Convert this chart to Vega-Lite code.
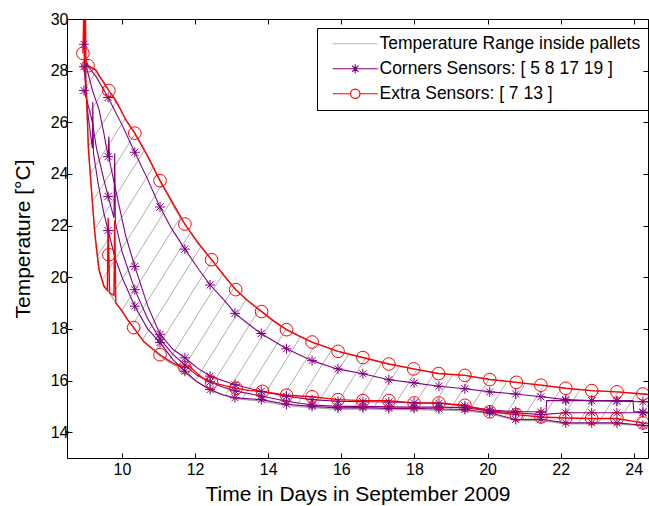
{
  "$schema": "https://vega.github.io/schema/vega-lite/v6.json",
  "width": 581,
  "height": 439,
  "autosize": {"type": "none"},
  "padding": {"left": 67, "top": 19, "right": 1, "bottom": 48},
  "background": "white",
  "config": {"view": {"stroke": null}, "font": "Liberation Sans"},
  "datasets": {
    "hatch": [
      {"d0": 1.60, "t0": 13, "d1": 9.12, "t1": 30}, {"d0": 2.13, "t0": 13, "d1": 9.65, "t1": 30},
      {"d0": 2.67, "t0": 13, "d1": 10.19, "t1": 30}, {"d0": 3.20, "t0": 13, "d1": 10.72, "t1": 30},
      {"d0": 3.74, "t0": 13, "d1": 11.26, "t1": 30}, {"d0": 4.27, "t0": 13, "d1": 11.79, "t1": 30},
      {"d0": 4.80, "t0": 13, "d1": 12.32, "t1": 30}, {"d0": 5.34, "t0": 13, "d1": 12.86, "t1": 30},
      {"d0": 5.87, "t0": 13, "d1": 13.39, "t1": 30}, {"d0": 6.41, "t0": 13, "d1": 13.93, "t1": 30},
      {"d0": 6.94, "t0": 13, "d1": 14.46, "t1": 30}, {"d0": 7.47, "t0": 13, "d1": 14.99, "t1": 30},
      {"d0": 8.01, "t0": 13, "d1": 15.53, "t1": 30}, {"d0": 8.54, "t0": 13, "d1": 16.06, "t1": 30},
      {"d0": 9.08, "t0": 13, "d1": 16.60, "t1": 30}, {"d0": 9.61, "t0": 13, "d1": 17.13, "t1": 30},
      {"d0": 10.14, "t0": 13, "d1": 17.66, "t1": 30}, {"d0": 10.68, "t0": 13, "d1": 18.20, "t1": 30},
      {"d0": 11.21, "t0": 13, "d1": 18.73, "t1": 30}, {"d0": 11.75, "t0": 13, "d1": 19.27, "t1": 30},
      {"d0": 12.28, "t0": 13, "d1": 19.80, "t1": 30}, {"d0": 12.81, "t0": 13, "d1": 20.33, "t1": 30},
      {"d0": 13.35, "t0": 13, "d1": 20.87, "t1": 30}, {"d0": 13.88, "t0": 13, "d1": 21.40, "t1": 30},
      {"d0": 14.42, "t0": 13, "d1": 21.94, "t1": 30}, {"d0": 14.95, "t0": 13, "d1": 22.47, "t1": 30},
      {"d0": 15.48, "t0": 13, "d1": 23.00, "t1": 30}, {"d0": 16.02, "t0": 13, "d1": 23.54, "t1": 30},
      {"d0": 16.55, "t0": 13, "d1": 24.07, "t1": 30}, {"d0": 17.09, "t0": 13, "d1": 24.61, "t1": 30},
      {"d0": 17.62, "t0": 13, "d1": 25.14, "t1": 30}, {"d0": 18.15, "t0": 13, "d1": 25.67, "t1": 30},
      {"d0": 18.69, "t0": 13, "d1": 26.21, "t1": 30}, {"d0": 19.22, "t0": 13, "d1": 26.74, "t1": 30},
      {"d0": 19.76, "t0": 13, "d1": 27.28, "t1": 30}, {"d0": 20.29, "t0": 13, "d1": 27.81, "t1": 30},
      {"d0": 20.82, "t0": 13, "d1": 28.34, "t1": 30}, {"d0": 21.36, "t0": 13, "d1": 28.88, "t1": 30},
      {"d0": 21.89, "t0": 13, "d1": 29.41, "t1": 30}, {"d0": 22.43, "t0": 13, "d1": 29.95, "t1": 30},
      {"d0": 22.96, "t0": 13, "d1": 30.48, "t1": 30}, {"d0": 23.49, "t0": 13, "d1": 31.01, "t1": 30},
      {"d0": 24.03, "t0": 13, "d1": 31.55, "t1": 30}
    ],
    "range": [
      {"day": 8.495, "tmin": 28.3, "tmax": 28.3}, {"day": 8.99, "tmin": 28.3, "tmax": 28.3},
      {"day": 9.01, "tmin": 28.3, "tmax": 28.35}, {"day": 9.03, "tmin": 27.0, "tmax": 28.3},
      {"day": 9.08, "tmin": 25.0, "tmax": 28.2}, {"day": 9.15, "tmin": 23.64, "tmax": 28.1},
      {"day": 9.25, "tmin": 21.8, "tmax": 28.05}, {"day": 9.28, "tmin": 21.3, "tmax": 28.03},
      {"day": 9.37, "tmin": 20.29, "tmax": 27.85}, {"day": 9.51, "tmin": 19.64, "tmax": 27.55},
      {"day": 9.64, "tmin": 19.45, "tmax": 27.23}, {"day": 9.83, "tmin": 19.0, "tmax": 26.9},
      {"day": 9.92, "tmin": 18.85, "tmax": 26.6}, {"day": 10.15, "tmin": 18.36, "tmax": 26.0},
      {"day": 10.32, "tmin": 18.05, "tmax": 25.62}, {"day": 10.6, "tmin": 17.5, "tmax": 24.95},
      {"day": 11.04, "tmin": 16.95, "tmax": 23.74}, {"day": 11.3, "tmin": 16.7, "tmax": 23.05},
      {"day": 11.49, "tmin": 16.55, "tmax": 22.55}, {"day": 11.72, "tmin": 16.3, "tmax": 22.06},
      {"day": 12.05, "tmin": 15.95, "tmax": 21.35}, {"day": 12.45, "tmin": 15.6, "tmax": 20.68},
      {"day": 12.8, "tmin": 15.43, "tmax": 20.05}, {"day": 13.11, "tmin": 15.3, "tmax": 19.52},
      {"day": 13.45, "tmin": 15.25, "tmax": 19.08}, {"day": 13.82, "tmin": 15.2, "tmax": 18.67},
      {"day": 14.5, "tmin": 15.03, "tmax": 17.97}, {"day": 15.2, "tmin": 14.95, "tmax": 17.49},
      {"day": 15.91, "tmin": 14.88, "tmax": 17.13}, {"day": 16.59, "tmin": 14.9, "tmax": 16.89},
      {"day": 17.3, "tmin": 14.87, "tmax": 16.64}, {"day": 17.98, "tmin": 14.87, "tmax": 16.45},
      {"day": 18.66, "tmin": 14.85, "tmax": 16.27}, {"day": 19.38, "tmin": 14.83, "tmax": 16.2},
      {"day": 20.06, "tmin": 14.72, "tmax": 16.04}, {"day": 20.79, "tmin": 14.45, "tmax": 15.93},
      {"day": 21.46, "tmin": 14.45, "tmax": 15.82}, {"day": 22.14, "tmin": 14.32, "tmax": 15.70},
      {"day": 22.85, "tmin": 14.32, "tmax": 15.61}, {"day": 23.54, "tmin": 14.32, "tmax": 15.56},
      {"day": 24.25, "tmin": 14.24, "tmax": 15.48}, {"day": 24.39, "tmin": 14.22, "tmax": 15.46}
    ],
    "lines": [
      {"group": "corner", "sensor": "S5", "day": 8.96, "temp": 28.15}, {"group": "corner", "sensor": "S5", "day": 9.05, "temp": 28.2},
      {"group": "corner", "sensor": "S5", "day": 9.3, "temp": 27.75}, {"group": "corner", "sensor": "S5", "day": 9.62, "temp": 26.96},
      {"group": "corner", "sensor": "S5", "day": 10.0, "temp": 25.9}, {"group": "corner", "sensor": "S5", "day": 10.35, "temp": 24.84},
      {"group": "corner", "sensor": "S5", "day": 10.7, "temp": 23.8}, {"group": "corner", "sensor": "S5", "day": 11.01, "temp": 22.8},
      {"group": "corner", "sensor": "S5", "day": 11.35, "temp": 21.9}, {"group": "corner", "sensor": "S5", "day": 11.72, "temp": 21.09},
      {"group": "corner", "sensor": "S5", "day": 12.1, "temp": 20.3}, {"group": "corner", "sensor": "S5", "day": 12.43, "temp": 19.67},
      {"group": "corner", "sensor": "S5", "day": 12.8, "temp": 19.1}, {"group": "corner", "sensor": "S5", "day": 13.1, "temp": 18.59},
      {"group": "corner", "sensor": "S5", "day": 13.45, "temp": 18.2}, {"group": "corner", "sensor": "S5", "day": 13.78, "temp": 17.84},
      {"group": "corner", "sensor": "S5", "day": 14.5, "temp": 17.23}, {"group": "corner", "sensor": "S5", "day": 15.2, "temp": 16.77},
      {"group": "corner", "sensor": "S5", "day": 15.86, "temp": 16.46}, {"group": "corner", "sensor": "S5", "day": 16.59, "temp": 16.26},
      {"group": "corner", "sensor": "S5", "day": 17.3, "temp": 16.03}, {"group": "corner", "sensor": "S5", "day": 17.99, "temp": 15.91},
      {"group": "corner", "sensor": "S5", "day": 18.67, "temp": 15.78}, {"group": "corner", "sensor": "S5", "day": 19.38, "temp": 15.68},
      {"group": "corner", "sensor": "S5", "day": 20.08, "temp": 15.56}, {"group": "corner", "sensor": "S5", "day": 20.77, "temp": 15.48},
      {"group": "corner", "sensor": "S5", "day": 21.46, "temp": 15.37}, {"group": "corner", "sensor": "S5", "day": 22.14, "temp": 15.26},
      {"group": "corner", "sensor": "S5", "day": 22.85, "temp": 15.22}, {"group": "corner", "sensor": "S5", "day": 23.54, "temp": 15.2},
      {"group": "corner", "sensor": "S5", "day": 24.25, "temp": 15.18}, {"group": "corner", "sensor": "S5", "day": 24.39, "temp": 15.17},

      {"group": "corner", "sensor": "S8", "day": 8.95, "temp": 30.5}, {"group": "corner", "sensor": "S8", "day": 8.96, "temp": 29.02},
      {"group": "corner", "sensor": "S8", "day": 9.05, "temp": 28.0}, {"group": "corner", "sensor": "S8", "day": 9.2, "temp": 27.2},
      {"group": "corner", "sensor": "S8", "day": 9.37, "temp": 26.5}, {"group": "corner", "sensor": "S8", "day": 9.5, "temp": 25.6},
      {"group": "corner", "sensor": "S8", "day": 9.62, "temp": 24.67}, {"group": "corner", "sensor": "S8", "day": 9.64, "temp": 25.45},
      {"group": "corner", "sensor": "S8", "day": 9.66, "temp": 24.5}, {"group": "corner", "sensor": "S8", "day": 9.9, "temp": 22.9},
      {"group": "corner", "sensor": "S8", "day": 10.1, "temp": 21.6}, {"group": "corner", "sensor": "S8", "day": 10.35, "temp": 20.42},
      {"group": "corner", "sensor": "S8", "day": 10.7, "temp": 18.9}, {"group": "corner", "sensor": "S8", "day": 11.04, "temp": 17.79},
      {"group": "corner", "sensor": "S8", "day": 11.4, "temp": 17.2}, {"group": "corner", "sensor": "S8", "day": 11.72, "temp": 16.88},
      {"group": "corner", "sensor": "S8", "day": 12.05, "temp": 16.5}, {"group": "corner", "sensor": "S8", "day": 12.41, "temp": 16.17},
      {"group": "corner", "sensor": "S8", "day": 12.75, "temp": 16.0}, {"group": "corner", "sensor": "S8", "day": 13.09, "temp": 15.84},
      {"group": "corner", "sensor": "S8", "day": 13.81, "temp": 15.58}, {"group": "corner", "sensor": "S8", "day": 14.5, "temp": 15.39},
      {"group": "corner", "sensor": "S8", "day": 15.2, "temp": 15.26}, {"group": "corner", "sensor": "S8", "day": 15.91, "temp": 15.2},
      {"group": "corner", "sensor": "S8", "day": 16.59, "temp": 15.18}, {"group": "corner", "sensor": "S8", "day": 17.3, "temp": 15.17},
      {"group": "corner", "sensor": "S8", "day": 17.99, "temp": 15.14}, {"group": "corner", "sensor": "S8", "day": 18.67, "temp": 15.12},
      {"group": "corner", "sensor": "S8", "day": 19.38, "temp": 15.02}, {"group": "corner", "sensor": "S8", "day": 20.06, "temp": 14.86},
      {"group": "corner", "sensor": "S8", "day": 20.77, "temp": 14.8}, {"group": "corner", "sensor": "S8", "day": 21.6, "temp": 14.78},
      {"group": "corner", "sensor": "S8", "day": 21.62, "temp": 15.22}, {"group": "corner", "sensor": "S8", "day": 23.98, "temp": 15.22},
      {"group": "corner", "sensor": "S8", "day": 24.0, "temp": 14.8}, {"group": "corner", "sensor": "S8", "day": 24.39, "temp": 14.76},

      {"group": "corner", "sensor": "S17", "day": 8.96, "temp": 27.23}, {"group": "corner", "sensor": "S17", "day": 9.05, "temp": 26.8},
      {"group": "corner", "sensor": "S17", "day": 9.19, "temp": 26.0}, {"group": "corner", "sensor": "S17", "day": 9.3, "temp": 25.0},
      {"group": "corner", "sensor": "S17", "day": 9.5, "temp": 23.8}, {"group": "corner", "sensor": "S17", "day": 9.62, "temp": 23.13},
      {"group": "corner", "sensor": "S17", "day": 9.78, "temp": 22.3}, {"group": "corner", "sensor": "S17", "day": 9.8, "temp": 24.8},
      {"group": "corner", "sensor": "S17", "day": 9.82, "temp": 22.1}, {"group": "corner", "sensor": "S17", "day": 10.0, "temp": 21.0},
      {"group": "corner", "sensor": "S17", "day": 10.35, "temp": 19.52}, {"group": "corner", "sensor": "S17", "day": 10.7, "temp": 18.4},
      {"group": "corner", "sensor": "S17", "day": 11.04, "temp": 17.6}, {"group": "corner", "sensor": "S17", "day": 11.4, "temp": 17.0},
      {"group": "corner", "sensor": "S17", "day": 11.72, "temp": 16.6}, {"group": "corner", "sensor": "S17", "day": 12.05, "temp": 16.2},
      {"group": "corner", "sensor": "S17", "day": 12.41, "temp": 15.95}, {"group": "corner", "sensor": "S17", "day": 12.75, "temp": 15.75},
      {"group": "corner", "sensor": "S17", "day": 13.09, "temp": 15.6}, {"group": "corner", "sensor": "S17", "day": 13.81, "temp": 15.4},
      {"group": "corner", "sensor": "S17", "day": 14.5, "temp": 15.2}, {"group": "corner", "sensor": "S17", "day": 15.2, "temp": 15.05},
      {"group": "corner", "sensor": "S17", "day": 15.91, "temp": 15.0}, {"group": "corner", "sensor": "S17", "day": 16.59, "temp": 15.0},
      {"group": "corner", "sensor": "S17", "day": 17.3, "temp": 14.98}, {"group": "corner", "sensor": "S17", "day": 17.99, "temp": 14.97},
      {"group": "corner", "sensor": "S17", "day": 18.67, "temp": 14.97}, {"group": "corner", "sensor": "S17", "day": 19.38, "temp": 14.95},
      {"group": "corner", "sensor": "S17", "day": 20.06, "temp": 14.82}, {"group": "corner", "sensor": "S17", "day": 20.77, "temp": 14.75},
      {"group": "corner", "sensor": "S17", "day": 21.46, "temp": 14.68}, {"group": "corner", "sensor": "S17", "day": 22.14, "temp": 14.75},
      {"group": "corner", "sensor": "S17", "day": 22.85, "temp": 14.75}, {"group": "corner", "sensor": "S17", "day": 23.54, "temp": 14.75},
      {"group": "corner", "sensor": "S17", "day": 24.25, "temp": 14.75}, {"group": "corner", "sensor": "S17", "day": 24.39, "temp": 14.74},

      {"group": "corner", "sensor": "S19", "day": 8.95, "temp": 30.5}, {"group": "corner", "sensor": "S19", "day": 8.97, "temp": 28.0},
      {"group": "corner", "sensor": "S19", "day": 9.05, "temp": 26.5}, {"group": "corner", "sensor": "S19", "day": 9.19, "temp": 25.0},
      {"group": "corner", "sensor": "S19", "day": 9.2, "temp": 26.8}, {"group": "corner", "sensor": "S19", "day": 9.22, "temp": 24.8},
      {"group": "corner", "sensor": "S19", "day": 9.35, "temp": 23.6}, {"group": "corner", "sensor": "S19", "day": 9.5, "temp": 22.5},
      {"group": "corner", "sensor": "S19", "day": 9.62, "temp": 21.81}, {"group": "corner", "sensor": "S19", "day": 9.8, "temp": 20.8},
      {"group": "corner", "sensor": "S19", "day": 10.0, "temp": 20.0}, {"group": "corner", "sensor": "S19", "day": 10.35, "temp": 18.88},
      {"group": "corner", "sensor": "S19", "day": 10.7, "temp": 18.0}, {"group": "corner", "sensor": "S19", "day": 11.04, "temp": 17.47},
      {"group": "corner", "sensor": "S19", "day": 11.4, "temp": 16.8}, {"group": "corner", "sensor": "S19", "day": 11.72, "temp": 16.36},
      {"group": "corner", "sensor": "S19", "day": 12.05, "temp": 15.95}, {"group": "corner", "sensor": "S19", "day": 12.41, "temp": 15.65},
      {"group": "corner", "sensor": "S19", "day": 12.75, "temp": 15.45}, {"group": "corner", "sensor": "S19", "day": 13.09, "temp": 15.33},
      {"group": "corner", "sensor": "S19", "day": 13.81, "temp": 15.26}, {"group": "corner", "sensor": "S19", "day": 14.5, "temp": 15.08},
      {"group": "corner", "sensor": "S19", "day": 15.2, "temp": 15.0}, {"group": "corner", "sensor": "S19", "day": 15.91, "temp": 14.94},
      {"group": "corner", "sensor": "S19", "day": 16.59, "temp": 14.95}, {"group": "corner", "sensor": "S19", "day": 17.3, "temp": 14.92},
      {"group": "corner", "sensor": "S19", "day": 17.99, "temp": 14.92}, {"group": "corner", "sensor": "S19", "day": 18.67, "temp": 14.9},
      {"group": "corner", "sensor": "S19", "day": 19.38, "temp": 14.88}, {"group": "corner", "sensor": "S19", "day": 20.06, "temp": 14.75},
      {"group": "corner", "sensor": "S19", "day": 20.77, "temp": 14.49}, {"group": "corner", "sensor": "S19", "day": 21.46, "temp": 14.5},
      {"group": "corner", "sensor": "S19", "day": 22.14, "temp": 14.36}, {"group": "corner", "sensor": "S19", "day": 22.85, "temp": 14.36},
      {"group": "corner", "sensor": "S19", "day": 23.54, "temp": 14.36}, {"group": "corner", "sensor": "S19", "day": 24.25, "temp": 14.27},
      {"group": "corner", "sensor": "S19", "day": 24.39, "temp": 14.26},

      {"group": "extra", "sensor": "S7", "day": 9.0, "temp": 30.5}, {"group": "extra", "sensor": "S7", "day": 9.01, "temp": 28.4},
      {"group": "extra", "sensor": "S7", "day": 9.07, "temp": 28.19}, {"group": "extra", "sensor": "S7", "day": 9.28, "temp": 28.03},
      {"group": "extra", "sensor": "S7", "day": 9.4, "temp": 27.75}, {"group": "extra", "sensor": "S7", "day": 9.64, "temp": 27.23},
      {"group": "extra", "sensor": "S7", "day": 9.75, "temp": 27.0}, {"group": "extra", "sensor": "S7", "day": 9.92, "temp": 26.6},
      {"group": "extra", "sensor": "S7", "day": 10.1, "temp": 26.1}, {"group": "extra", "sensor": "S7", "day": 10.35, "temp": 25.58},
      {"group": "extra", "sensor": "S7", "day": 10.7, "temp": 24.7}, {"group": "extra", "sensor": "S7", "day": 11.04, "temp": 23.74},
      {"group": "extra", "sensor": "S7", "day": 11.4, "temp": 22.85}, {"group": "extra", "sensor": "S7", "day": 11.72, "temp": 22.06},
      {"group": "extra", "sensor": "S7", "day": 12.1, "temp": 21.3}, {"group": "extra", "sensor": "S7", "day": 12.45, "temp": 20.68},
      {"group": "extra", "sensor": "S7", "day": 12.8, "temp": 20.05}, {"group": "extra", "sensor": "S7", "day": 13.11, "temp": 19.52},
      {"group": "extra", "sensor": "S7", "day": 13.45, "temp": 19.08}, {"group": "extra", "sensor": "S7", "day": 13.82, "temp": 18.67},
      {"group": "extra", "sensor": "S7", "day": 14.15, "temp": 18.3}, {"group": "extra", "sensor": "S7", "day": 14.5, "temp": 17.97},
      {"group": "extra", "sensor": "S7", "day": 14.85, "temp": 17.72}, {"group": "extra", "sensor": "S7", "day": 15.2, "temp": 17.49},
      {"group": "extra", "sensor": "S7", "day": 15.91, "temp": 17.13}, {"group": "extra", "sensor": "S7", "day": 16.59, "temp": 16.89},
      {"group": "extra", "sensor": "S7", "day": 17.3, "temp": 16.64}, {"group": "extra", "sensor": "S7", "day": 17.98, "temp": 16.45},
      {"group": "extra", "sensor": "S7", "day": 18.66, "temp": 16.27}, {"group": "extra", "sensor": "S7", "day": 19.38, "temp": 16.2},
      {"group": "extra", "sensor": "S7", "day": 20.06, "temp": 16.04}, {"group": "extra", "sensor": "S7", "day": 20.79, "temp": 15.93},
      {"group": "extra", "sensor": "S7", "day": 21.46, "temp": 15.82}, {"group": "extra", "sensor": "S7", "day": 22.14, "temp": 15.7},
      {"group": "extra", "sensor": "S7", "day": 22.85, "temp": 15.61}, {"group": "extra", "sensor": "S7", "day": 23.54, "temp": 15.56},
      {"group": "extra", "sensor": "S7", "day": 24.25, "temp": 15.48}, {"group": "extra", "sensor": "S7", "day": 24.39, "temp": 15.46},

      {"group": "extra", "sensor": "S13", "day": 8.93, "temp": 28.67}, {"group": "extra", "sensor": "S13", "day": 8.96, "temp": 30.5},
      {"group": "extra", "sensor": "S13", "day": 8.99, "temp": 28.3}, {"group": "extra", "sensor": "S13", "day": 9.03, "temp": 27.0},
      {"group": "extra", "sensor": "S13", "day": 9.08, "temp": 25.0}, {"group": "extra", "sensor": "S13", "day": 9.15, "temp": 23.64},
      {"group": "extra", "sensor": "S13", "day": 9.25, "temp": 21.8}, {"group": "extra", "sensor": "S13", "day": 9.37, "temp": 20.29},
      {"group": "extra", "sensor": "S13", "day": 9.51, "temp": 19.64}, {"group": "extra", "sensor": "S13", "day": 9.6, "temp": 19.5},
      {"group": "extra", "sensor": "S13", "day": 9.62, "temp": 22.3}, {"group": "extra", "sensor": "S13", "day": 9.64, "temp": 20.87},
      {"group": "extra", "sensor": "S13", "day": 9.66, "temp": 19.4}, {"group": "extra", "sensor": "S13", "day": 9.78, "temp": 19.3},
      {"group": "extra", "sensor": "S13", "day": 9.8, "temp": 22.2}, {"group": "extra", "sensor": "S13", "day": 9.83, "temp": 19.0},
      {"group": "extra", "sensor": "S13", "day": 10.0, "temp": 18.7}, {"group": "extra", "sensor": "S13", "day": 10.15, "temp": 18.36},
      {"group": "extra", "sensor": "S13", "day": 10.32, "temp": 18.05}, {"group": "extra", "sensor": "S13", "day": 10.6, "temp": 17.5},
      {"group": "extra", "sensor": "S13", "day": 11.04, "temp": 17.0}, {"group": "extra", "sensor": "S13", "day": 11.3, "temp": 16.75},
      {"group": "extra", "sensor": "S13", "day": 11.49, "temp": 16.61}, {"group": "extra", "sensor": "S13", "day": 11.72, "temp": 16.5},
      {"group": "extra", "sensor": "S13", "day": 11.85, "temp": 16.55}, {"group": "extra", "sensor": "S13", "day": 12.0, "temp": 16.35},
      {"group": "extra", "sensor": "S13", "day": 12.2, "temp": 16.1}, {"group": "extra", "sensor": "S13", "day": 12.45, "temp": 15.93},
      {"group": "extra", "sensor": "S13", "day": 12.8, "temp": 15.8}, {"group": "extra", "sensor": "S13", "day": 13.12, "temp": 15.7},
      {"group": "extra", "sensor": "S13", "day": 13.45, "temp": 15.62}, {"group": "extra", "sensor": "S13", "day": 13.84, "temp": 15.58},
      {"group": "extra", "sensor": "S13", "day": 14.5, "temp": 15.43}, {"group": "extra", "sensor": "S13", "day": 15.2, "temp": 15.37},
      {"group": "extra", "sensor": "S13", "day": 15.91, "temp": 15.26}, {"group": "extra", "sensor": "S13", "day": 16.59, "temp": 15.22},
      {"group": "extra", "sensor": "S13", "day": 17.3, "temp": 15.22}, {"group": "extra", "sensor": "S13", "day": 17.99, "temp": 15.13},
      {"group": "extra", "sensor": "S13", "day": 18.67, "temp": 15.13}, {"group": "extra", "sensor": "S13", "day": 19.38, "temp": 15.04},
      {"group": "extra", "sensor": "S13", "day": 20.06, "temp": 14.79}, {"group": "extra", "sensor": "S13", "day": 20.79, "temp": 14.68},
      {"group": "extra", "sensor": "S13", "day": 21.46, "temp": 14.59}, {"group": "extra", "sensor": "S13", "day": 22.14, "temp": 14.55},
      {"group": "extra", "sensor": "S13", "day": 22.85, "temp": 14.53}, {"group": "extra", "sensor": "S13", "day": 23.54, "temp": 14.53},
      {"group": "extra", "sensor": "S13", "day": 24.25, "temp": 14.36}, {"group": "extra", "sensor": "S13", "day": 24.39, "temp": 14.34}
    ],
    "marks": [
      {"group": "corner", "day": 8.96, "temp": 28.15}, {"group": "corner", "day": 9.62, "temp": 26.96}, {"group": "corner", "day": 10.35, "temp": 24.84},
      {"group": "corner", "day": 11.04, "temp": 22.72}, {"group": "corner", "day": 11.72, "temp": 21.09}, {"group": "corner", "day": 12.41, "temp": 19.7},
      {"group": "corner", "day": 13.09, "temp": 18.6}, {"group": "corner", "day": 13.81, "temp": 17.82}, {"group": "corner", "day": 14.5, "temp": 17.23},
      {"group": "corner", "day": 15.2, "temp": 16.77}, {"group": "corner", "day": 15.91, "temp": 16.45}, {"group": "corner", "day": 16.59, "temp": 16.26},
      {"group": "corner", "day": 17.3, "temp": 16.03}, {"group": "corner", "day": 17.99, "temp": 15.91}, {"group": "corner", "day": 18.67, "temp": 15.78},
      {"group": "corner", "day": 19.38, "temp": 15.68}, {"group": "corner", "day": 20.06, "temp": 15.56}, {"group": "corner", "day": 20.77, "temp": 15.48},
      {"group": "corner", "day": 21.46, "temp": 15.37}, {"group": "corner", "day": 22.14, "temp": 15.26}, {"group": "corner", "day": 22.85, "temp": 15.22},
      {"group": "corner", "day": 23.54, "temp": 15.2}, {"group": "corner", "day": 24.25, "temp": 15.18},

      {"group": "corner", "day": 8.96, "temp": 29.02}, {"group": "corner", "day": 9.62, "temp": 24.67}, {"group": "corner", "day": 10.35, "temp": 20.42},
      {"group": "corner", "day": 11.04, "temp": 17.79}, {"group": "corner", "day": 11.72, "temp": 16.88}, {"group": "corner", "day": 12.41, "temp": 16.17},
      {"group": "corner", "day": 13.09, "temp": 15.84}, {"group": "corner", "day": 13.81, "temp": 15.58}, {"group": "corner", "day": 14.5, "temp": 15.39},
      {"group": "corner", "day": 15.2, "temp": 15.26}, {"group": "corner", "day": 15.91, "temp": 15.2}, {"group": "corner", "day": 16.59, "temp": 15.18},
      {"group": "corner", "day": 17.3, "temp": 15.17}, {"group": "corner", "day": 17.99, "temp": 15.14}, {"group": "corner", "day": 18.67, "temp": 15.12},
      {"group": "corner", "day": 19.38, "temp": 15.02}, {"group": "corner", "day": 20.06, "temp": 14.86}, {"group": "corner", "day": 20.77, "temp": 14.8},
      {"group": "corner", "day": 21.46, "temp": 14.78}, {"group": "corner", "day": 22.14, "temp": 15.22}, {"group": "corner", "day": 22.85, "temp": 15.22},
      {"group": "corner", "day": 23.54, "temp": 15.22}, {"group": "corner", "day": 24.25, "temp": 14.78},

      {"group": "corner", "day": 8.96, "temp": 27.23}, {"group": "corner", "day": 9.62, "temp": 23.13}, {"group": "corner", "day": 10.35, "temp": 19.52},
      {"group": "corner", "day": 11.04, "temp": 17.6}, {"group": "corner", "day": 11.72, "temp": 16.6}, {"group": "corner", "day": 12.41, "temp": 15.95},
      {"group": "corner", "day": 13.09, "temp": 15.6}, {"group": "corner", "day": 13.81, "temp": 15.4}, {"group": "corner", "day": 14.5, "temp": 15.2},
      {"group": "corner", "day": 15.2, "temp": 15.05}, {"group": "corner", "day": 15.91, "temp": 15.0}, {"group": "corner", "day": 16.59, "temp": 15.0},
      {"group": "corner", "day": 17.3, "temp": 14.98}, {"group": "corner", "day": 17.99, "temp": 14.97}, {"group": "corner", "day": 18.67, "temp": 14.97},
      {"group": "corner", "day": 19.38, "temp": 14.95}, {"group": "corner", "day": 20.06, "temp": 14.82}, {"group": "corner", "day": 20.77, "temp": 14.75},
      {"group": "corner", "day": 21.46, "temp": 14.68}, {"group": "corner", "day": 22.14, "temp": 14.75}, {"group": "corner", "day": 22.85, "temp": 14.75},
      {"group": "corner", "day": 23.54, "temp": 14.75}, {"group": "corner", "day": 24.25, "temp": 14.75},

      {"group": "corner", "day": 9.62, "temp": 21.81}, {"group": "corner", "day": 10.35, "temp": 18.88}, {"group": "corner", "day": 11.04, "temp": 17.47},
      {"group": "corner", "day": 11.72, "temp": 16.36}, {"group": "corner", "day": 12.41, "temp": 15.65}, {"group": "corner", "day": 13.09, "temp": 15.33},
      {"group": "corner", "day": 13.81, "temp": 15.26}, {"group": "corner", "day": 14.5, "temp": 15.08}, {"group": "corner", "day": 15.2, "temp": 15.0},
      {"group": "corner", "day": 15.91, "temp": 14.94}, {"group": "corner", "day": 16.59, "temp": 14.95}, {"group": "corner", "day": 17.3, "temp": 14.92},
      {"group": "corner", "day": 17.99, "temp": 14.92}, {"group": "corner", "day": 18.67, "temp": 14.9}, {"group": "corner", "day": 19.38, "temp": 14.88},
      {"group": "corner", "day": 20.06, "temp": 14.75}, {"group": "corner", "day": 20.77, "temp": 14.49}, {"group": "corner", "day": 21.46, "temp": 14.5},
      {"group": "corner", "day": 22.14, "temp": 14.36}, {"group": "corner", "day": 22.85, "temp": 14.36}, {"group": "corner", "day": 23.54, "temp": 14.36},
      {"group": "corner", "day": 24.25, "temp": 14.27},

      {"group": "extra", "day": 9.07, "temp": 28.19}, {"group": "extra", "day": 9.64, "temp": 27.23}, {"group": "extra", "day": 10.35, "temp": 25.58},
      {"group": "extra", "day": 11.04, "temp": 23.74}, {"group": "extra", "day": 11.72, "temp": 22.06}, {"group": "extra", "day": 12.45, "temp": 20.68},
      {"group": "extra", "day": 13.11, "temp": 19.52}, {"group": "extra", "day": 13.82, "temp": 18.67}, {"group": "extra", "day": 14.5, "temp": 17.97},
      {"group": "extra", "day": 15.2, "temp": 17.49}, {"group": "extra", "day": 15.91, "temp": 17.13}, {"group": "extra", "day": 16.59, "temp": 16.89},
      {"group": "extra", "day": 17.3, "temp": 16.64}, {"group": "extra", "day": 17.98, "temp": 16.45}, {"group": "extra", "day": 18.66, "temp": 16.27},
      {"group": "extra", "day": 19.38, "temp": 16.2}, {"group": "extra", "day": 20.06, "temp": 16.04}, {"group": "extra", "day": 20.79, "temp": 15.93},
      {"group": "extra", "day": 21.46, "temp": 15.82}, {"group": "extra", "day": 22.14, "temp": 15.7}, {"group": "extra", "day": 22.85, "temp": 15.61},
      {"group": "extra", "day": 23.54, "temp": 15.56}, {"group": "extra", "day": 24.25, "temp": 15.48},

      {"group": "extra", "day": 8.93, "temp": 28.67}, {"group": "extra", "day": 9.64, "temp": 20.87}, {"group": "extra", "day": 10.32, "temp": 18.05},
      {"group": "extra", "day": 11.04, "temp": 17.0}, {"group": "extra", "day": 11.72, "temp": 16.5}, {"group": "extra", "day": 12.45, "temp": 15.93},
      {"group": "extra", "day": 13.12, "temp": 15.7}, {"group": "extra", "day": 13.84, "temp": 15.58}, {"group": "extra", "day": 14.5, "temp": 15.43},
      {"group": "extra", "day": 15.2, "temp": 15.37}, {"group": "extra", "day": 15.91, "temp": 15.26}, {"group": "extra", "day": 16.59, "temp": 15.22},
      {"group": "extra", "day": 17.3, "temp": 15.22}, {"group": "extra", "day": 17.99, "temp": 15.13}, {"group": "extra", "day": 18.67, "temp": 15.13},
      {"group": "extra", "day": 19.38, "temp": 15.04}, {"group": "extra", "day": 20.06, "temp": 14.79}, {"group": "extra", "day": 20.79, "temp": 14.68},
      {"group": "extra", "day": 21.46, "temp": 14.59}, {"group": "extra", "day": 22.14, "temp": 14.55}, {"group": "extra", "day": 22.85, "temp": 14.53},
      {"group": "extra", "day": 23.54, "temp": 14.53}, {"group": "extra", "day": 24.25, "temp": 14.36}
    ],
    "spot": [{"day": 8.5, "temp": 14.0}]
  },
  "resolve": {"axis": {"x": "independent", "y": "independent"}},
  "layer": [
    {
      "data": {"name": "hatch"},
      "mark": {"type": "rule", "color": "#999999", "strokeWidth": 0.8, "clip": true},
      "encoding": {
        "x": {"field": "d0", "type": "quantitative", "scale": {"domain": [8.495, 24.39], "nice": false, "zero": false}, "axis": null},
        "y": {"field": "t0", "type": "quantitative", "scale": {"domain": [13, 30], "nice": false, "zero": false}, "axis": null},
        "x2": {"field": "d1"},
        "y2": {"field": "t1"}
      }
    },
    {
      "data": {"name": "range"},
      "mark": {"type": "area", "color": "white", "opacity": 1, "clip": true},
      "encoding": {
        "x": {"field": "day", "type": "quantitative", "scale": {"domain": [8.495, 24.39], "nice": false, "zero": false}, "axis": null},
        "y": {"field": "tmax", "type": "quantitative", "scale": {"domain": [13, 30], "nice": false, "zero": false}, "axis": null},
        "y2": {"datum": 30}
      }
    },
    {
      "data": {"name": "range"},
      "mark": {"type": "area", "color": "white", "opacity": 1, "clip": true},
      "encoding": {
        "x": {"field": "day", "type": "quantitative", "scale": {"domain": [8.495, 24.39], "nice": false, "zero": false}, "axis": null},
        "y": {"field": "tmin", "type": "quantitative", "scale": {"domain": [13, 30], "nice": false, "zero": false}, "axis": null},
        "y2": {"datum": 13}
      }
    },
    {
      "data": {"name": "range"},
      "transform": [{"filter": "datum.day > 9"}],
      "mark": {"type": "line", "color": "#a8a8a8", "strokeWidth": 1.2, "clip": true},
      "encoding": {
        "x": {"field": "day", "type": "quantitative", "scale": {"domain": [8.495, 24.39], "nice": false, "zero": false},
          "axis": {"orient": "bottom", "values": [10, 12, 14, 16, 18, 20, 22, 24], "format": "d", "grid": false, "zindex": 1,
            "tickSize": -5, "tickColor": "black", "tickWidth": 1, "domainColor": "black", "domainWidth": 1,
            "labelColor": "black", "labelFont": "Liberation Sans", "labelFontSize": 16, "labelPadding": 8, "labelFlush": false, "labelOverlap": false,
            "title": "Time in Days in September 2009", "titleFont": "Liberation Sans", "titleFontSize": 21, "titleFontWeight": "normal",
            "titleColor": "black", "titleY": 42, "titleBaseline": "alphabetic"}},
        "y": {"field": "tmin", "type": "quantitative", "scale": {"domain": [13, 30], "nice": false, "zero": false},
          "axis": {"orient": "left", "values": [14, 16, 18, 20, 22, 24, 26, 28, 30], "format": "d", "grid": false, "zindex": 1,
            "tickSize": -5, "tickColor": "black", "tickWidth": 1, "domainColor": "black", "domainWidth": 1,
            "labelColor": "black", "labelFont": "Liberation Sans", "labelFontSize": 16, "labelPadding": 4, "labelFlush": false, "labelOverlap": false,
            "title": "Temperature [°C]", "titleFont": "Liberation Sans", "titleFontSize": 21, "titleFontWeight": "normal",
            "titleColor": "black", "titleX": -34, "titleY": 219.5, "titleAngle": -90, "titleBaseline": "bottom", "titleAlign": "center"}}
      }
    },
    {
      "data": {"name": "range"},
      "transform": [{"filter": "datum.day > 9"}],
      "mark": {"type": "line", "color": "#a8a8a8", "strokeWidth": 1.2, "clip": true},
      "encoding": {
        "x": {"field": "day", "type": "quantitative", "scale": {"domain": [8.495, 24.39], "nice": false, "zero": false},
          "axis": {"orient": "top", "values": [10, 12, 14, 16, 18, 20, 22, 24], "labels": false, "title": null, "grid": false, "zindex": 1,
            "tickSize": -5, "tickColor": "black", "domainColor": "black"}},
        "y": {"field": "tmax", "type": "quantitative", "scale": {"domain": [13, 30], "nice": false, "zero": false},
          "axis": {"orient": "right", "values": [14, 16, 18, 20, 22, 24, 26, 28, 30], "labels": false, "title": null, "grid": false, "zindex": 1,
            "tickSize": -5, "tickColor": "black", "domainColor": "black"}}
      }
    },
    {
      "data": {"name": "lines"},
      "transform": [{"filter": "datum.group == 'corner'"}],
      "mark": {"type": "line", "color": "#800080", "strokeWidth": 1.1, "clip": true},
      "encoding": {
        "x": {"field": "day", "type": "quantitative", "scale": {"domain": [8.495, 24.39], "nice": false, "zero": false}, "axis": null},
        "y": {"field": "temp", "type": "quantitative", "scale": {"domain": [13, 30], "nice": false, "zero": false}, "axis": null},
        "detail": {"field": "sensor"}
      }
    },
    {
      "data": {"name": "lines"},
      "transform": [{"filter": "datum.group == 'extra'"}],
      "mark": {"type": "line", "color": "#ff0000", "strokeWidth": 1.4, "clip": true},
      "encoding": {
        "x": {"field": "day", "type": "quantitative", "scale": {"domain": [8.495, 24.39], "nice": false, "zero": false}, "axis": null},
        "y": {"field": "temp", "type": "quantitative", "scale": {"domain": [13, 30], "nice": false, "zero": false}, "axis": null},
        "detail": {"field": "sensor"}
      }
    },
    {
      "data": {"name": "marks"},
      "transform": [{"filter": "datum.group == 'corner'"}],
      "mark": {"type": "point", "shape": "M-1,0H1M0,-1V1M-0.7,-0.7L0.7,0.7M-0.7,0.7L0.7,-0.7", "size": 100, "color": "#800080", "filled": false, "strokeWidth": 1, "opacity": 1, "clip": true},
      "encoding": {
        "x": {"field": "day", "type": "quantitative", "scale": {"domain": [8.495, 24.39], "nice": false, "zero": false}, "axis": null},
        "y": {"field": "temp", "type": "quantitative", "scale": {"domain": [13, 30], "nice": false, "zero": false}, "axis": null}
      }
    },
    {
      "data": {"name": "marks"},
      "transform": [{"filter": "datum.group == 'extra'"}],
      "mark": {"type": "point", "shape": "circle", "size": 160, "color": "#ff0000", "filled": false, "strokeWidth": 1, "opacity": 1, "clip": true},
      "encoding": {
        "x": {"field": "day", "type": "quantitative", "scale": {"domain": [8.495, 24.39], "nice": false, "zero": false}, "axis": null},
        "y": {"field": "temp", "type": "quantitative", "scale": {"domain": [13, 30], "nice": false, "zero": false}, "axis": null}
      }
    },
    {
      "data": {"name": "spot"},
      "mark": {"type": "circle", "size": 12, "color": "#ff0000", "opacity": 1},
      "encoding": {
        "x": {"field": "day", "type": "quantitative", "scale": {"domain": [8.495, 24.39], "nice": false, "zero": false}, "axis": null},
        "y": {"field": "temp", "type": "quantitative", "scale": {"domain": [13, 30], "nice": false, "zero": false}, "axis": null}
      }
    },
    {
      "data": {"name": "marks"},
      "mark": {"type": "point", "filled": false, "opacity": 0},
      "encoding": {
        "x": {"field": "day", "type": "quantitative", "scale": {"domain": [8.495, 24.39], "nice": false, "zero": false}, "axis": null},
        "y": {"field": "temp", "type": "quantitative", "scale": {"domain": [13, 30], "nice": false, "zero": false}, "axis": null},
        "color": {"field": "group", "type": "nominal",
          "scale": {"domain": ["range", "corner", "extra"], "range": ["#b8b8b8", "#800080", "#ff0000"]},
          "legend": {"orient": "none", "legendX": 250, "legendY": 9, "title": null, "strokeColor": "black", "fillColor": "white",
            "padding": 7, "symbolOffset": 0, "labelFont": "Liberation Sans", "labelFontSize": 17.5, "labelColor": "black", "labelOffset": 38,
            "symbolSize": 100, "symbolStrokeWidth": 1.2, "symbolOpacity": 1, "rowPadding": 6, "labelLimit": 400, "cornerRadius": 0,
            "labelExpr": "datum.label == 'range' ? 'Temperature Range inside pallets' : datum.label == 'corner' ? 'Corners Sensors: [ 5 8 17 19 ]' : 'Extra Sensors: [ 7 13 ]'"}},
        "shape": {"field": "group", "type": "nominal",
          "scale": {"domain": ["range", "corner", "extra"],
            "range": ["M0,0H9.0",
              "M0,0H9.0M4.5,-0.9V0.9M3.6,0H5.4M3.86,-0.64L5.14,0.64M3.86,0.64L5.14,-0.64",
              "M0,0H3.56M5.44,0H9.0M5.44,0A0.94,0.94,0,1,1,3.56,0A0.94,0.94,0,1,1,5.44,0"]}}
      }
    }
  ]
}
